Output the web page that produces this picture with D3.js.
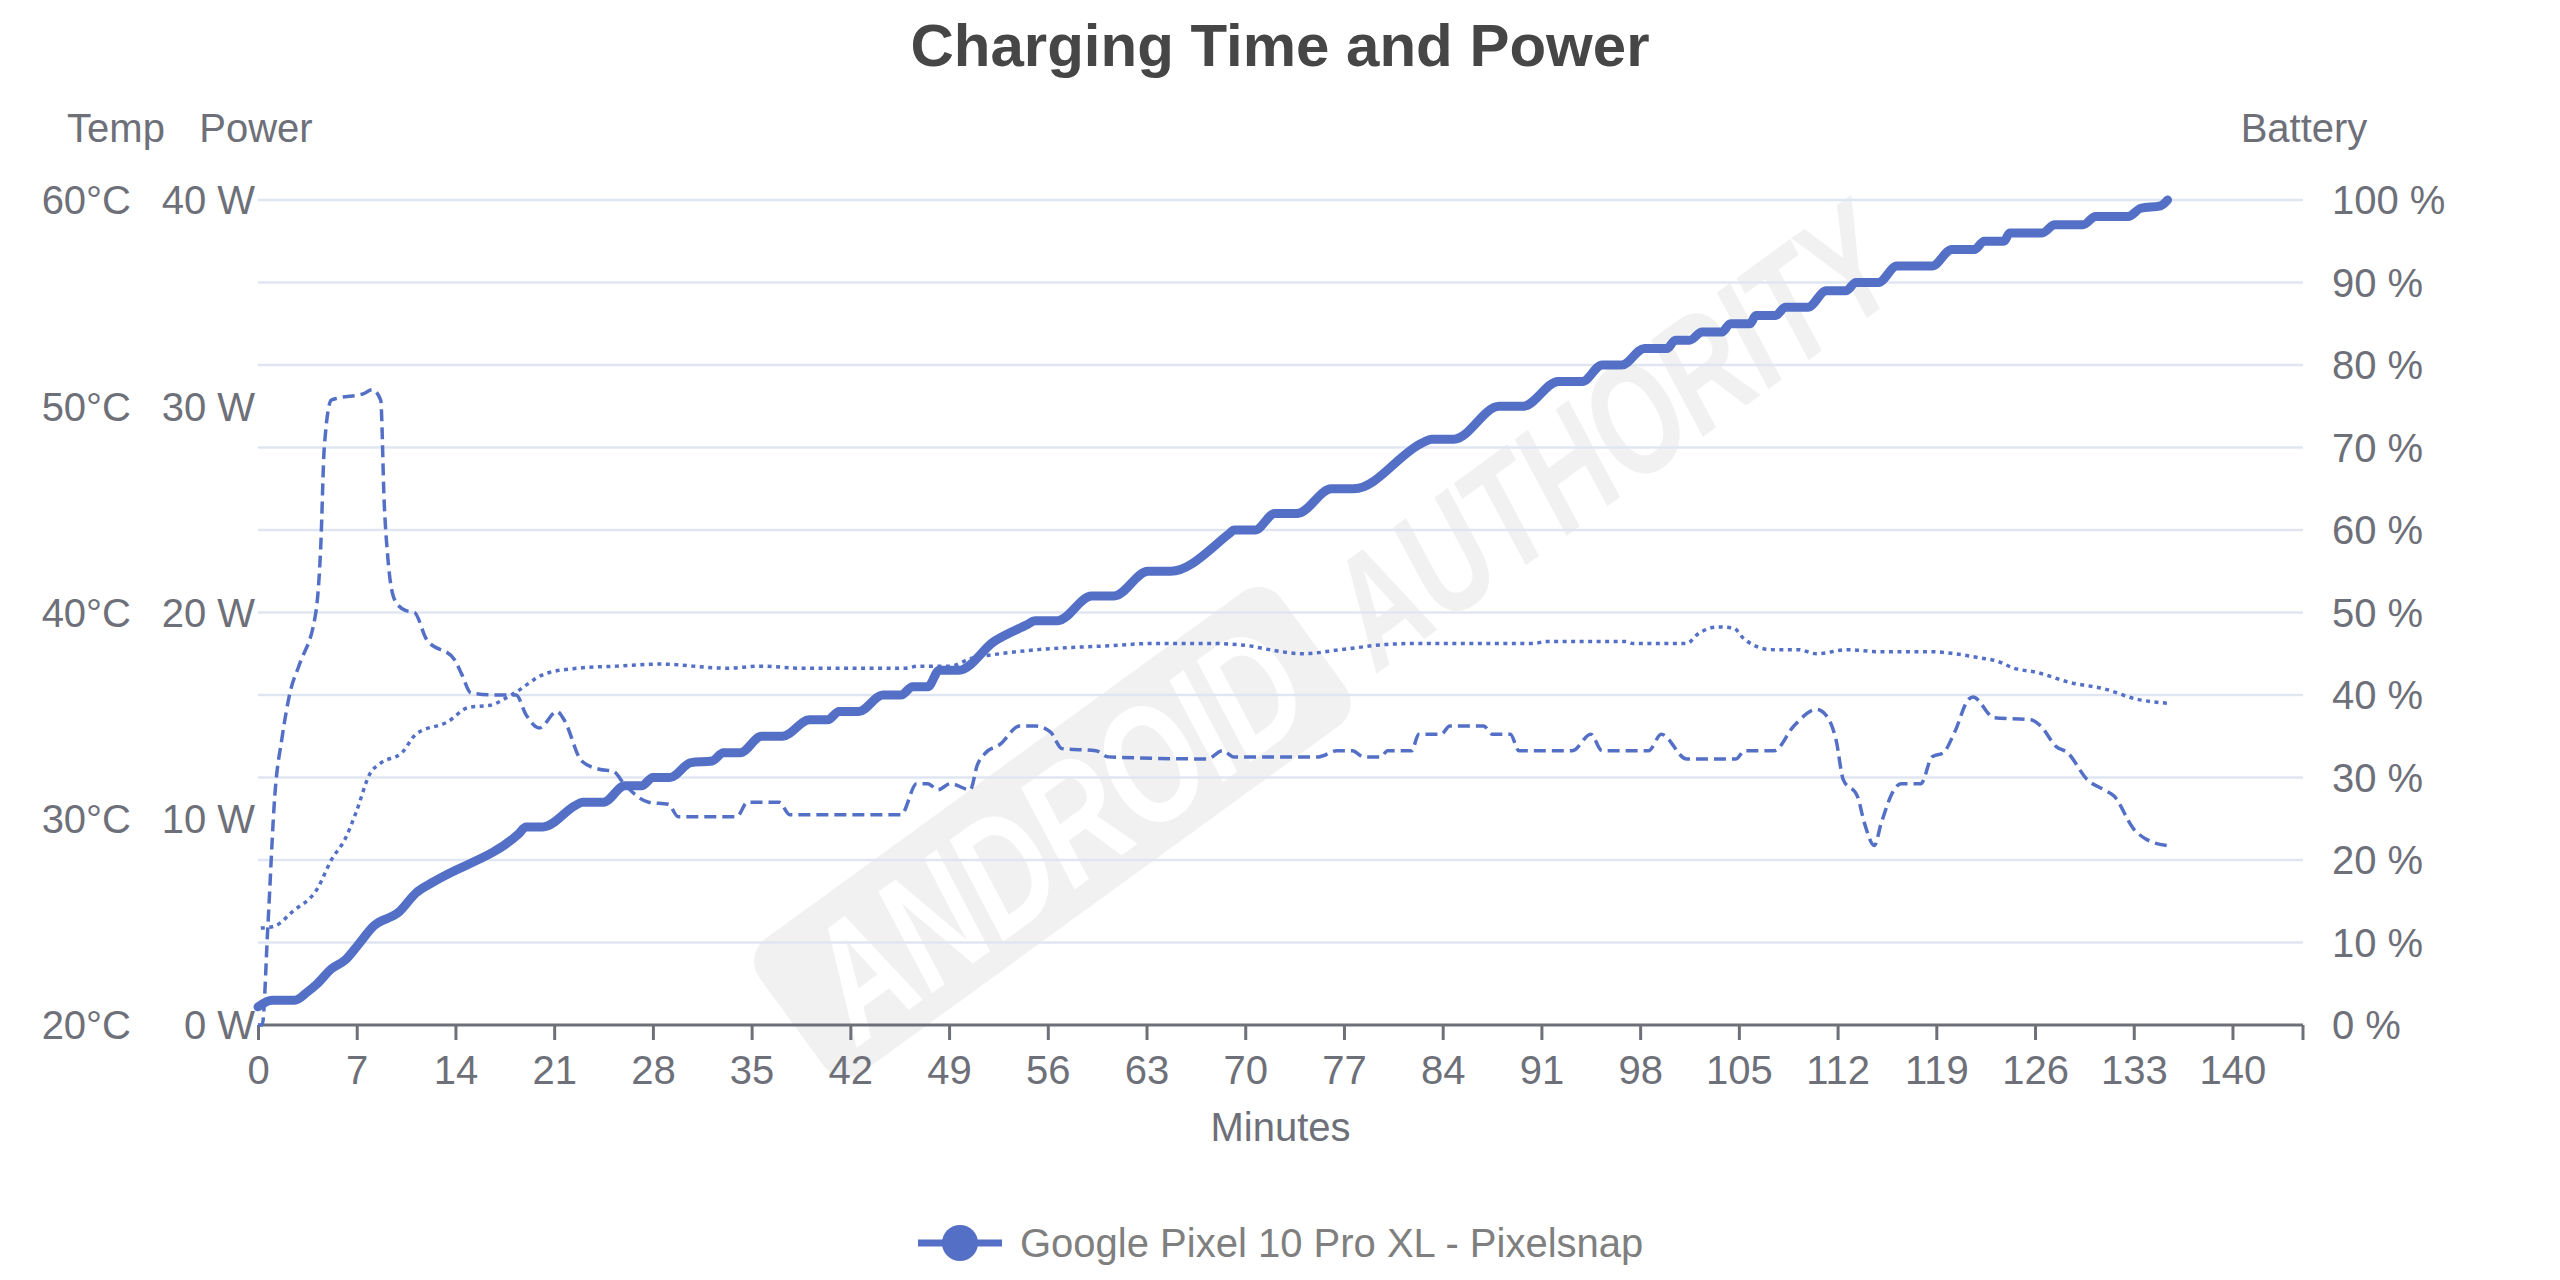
<!DOCTYPE html>
<html>
<head>
<meta charset="utf-8">
<script src="https://cdn.jsdelivr.net/npm/d3@7/dist/d3.min.js"></script>
<style>
  html, body { margin: 0; padding: 0; background: #ffffff; }
  svg { display: block; font-family: "Liberation Sans", Arial, Helvetica, sans-serif; }
</style>
</head>
<body>
<svg id="chart" width="2560" height="1280"></svg>
<script>
// ---------------- DATA ----------------
const chartTitle = "Charging Time and Power";
const seriesName = "Google Pixel 10 Pro XL - Pixelsnap";

const xTicks = [0, 7, 14, 21, 28, 35, 42, 49, 56, 63, 70, 77, 84, 91, 98, 105, 112, 119, 126, 133, 140];
const batteryTicks = [0, 10, 20, 30, 40, 50, 60, 70, 80, 90, 100];
const powerTicks = [0, 10, 20, 30, 40];
const tempTicks = [20, 30, 40, 50, 60];

// Battery (%), solid
const batteryMinutes = [0, 1, 2.6, 3.5, 4.2, 5.2, 6.2, 7, 8.2, 10, 11.2, 12.5, 18.5, 19, 20.2, 22.5, 23, 24.5, 26, 27.2, 28, 29.2, 30.7, 32.2, 33, 34.2, 35.7, 37.2, 39.1, 40.4, 41.2, 42.6, 44.3, 45.6, 46.4, 47.5, 48.3, 49.7, 52.2, 54.5, 55.1, 56.7, 59.1, 60.7, 63.1, 64.7, 68.9, 69.2, 70.7, 72.1, 73.7, 76.1, 77.7, 82.6, 83.2, 84.8, 88, 89.7, 92.2, 93.9, 95.3, 96.7, 98.3, 99.9, 100.5, 101.5, 102.4, 103.8, 104.4, 105.8, 106.2, 107.6, 108.3, 109.9, 111.2, 112.6, 113.3, 114.9, 116.2, 118.7, 120.1, 121.7, 122.4, 123.8, 124.2, 126.5, 127.4, 129.4, 130.3, 132.6, 133.5, 134.9, 135.4];
const batteryValues = [2.2, 3, 3, 4, 5, 6.8, 7.9, 9.5, 12, 13.7, 16, 17.4, 23.2, 24, 24, 26.6, 27, 27, 29, 29, 30, 30, 31.8, 32, 33, 33, 35, 35, 37, 37, 38, 38, 40, 40, 41, 41, 43, 43, 46.5, 48.5, 49, 49, 52, 52, 55, 55, 59.6, 60, 60, 62, 62, 65, 65, 70.6, 71, 71, 75, 75, 78, 78, 80, 80, 82, 82, 83, 83, 84, 84, 85, 85, 86, 86, 87, 87, 89, 89, 90, 90, 92, 92, 94, 94, 95, 95, 96, 96, 97, 97, 98, 98, 99, 99.3, 100];

// Power (W), dashed
const powerMinutes = [0, 0.3, 0.7, 1.2, 1.7, 2.3, 2.95, 4.1, 4.45, 4.7, 5.2, 5.7, 7.45, 8.1, 8.7, 8.95, 9.2, 9.7, 10.45, 11.1, 11.95, 13.95, 14.45, 15.1, 16.95, 18.3, 19, 19.95, 21.2, 21.7, 22.95, 24.2, 25.2, 25.95, 27.7, 29.1, 29.8, 33.95, 34.7, 36.95, 37.7, 45.6, 46.7, 47.5, 48.2, 49.1, 50.5, 51, 51.6, 52.6, 54, 55.1, 56.2, 57, 59.4, 60.3, 67.3, 68.4, 69.2, 75.2, 76.5, 77.6, 78.4, 79.6, 80.1, 81.8, 82.3, 83.9, 84.5, 86.9, 87.5, 88.8, 89.4, 93.2, 94.5, 95.3, 98.6, 99.5, 101.3, 104.8, 105.4, 107.5, 108.9, 110.5, 111.2, 111.9, 112.4, 113.4, 113.9, 114.6, 115.1, 116, 116.5, 117.9, 118.7, 119.5, 120.3, 121.3, 121.6, 123.1, 125.7, 126.4, 127.5, 128.3, 129.7, 130.9, 131.6, 133, 133.9, 135.4];
const powerValues = [0, 0, 4.8, 11.2, 13.9, 16.2, 17.5, 20, 23.2, 28, 30.3, 30.4, 30.6, 30.8, 30.3, 25.3, 22.7, 20.6, 20.1, 20, 18.7, 17.7, 17, 16.1, 16, 16, 15.05, 14.4, 15.2, 14.8, 12.8, 12.4, 12.3, 11.7, 10.8, 10.7, 10.1, 10.1, 10.8, 10.8, 10.2, 10.2, 11.7, 11.7, 11.4, 11.7, 11.4, 12.6, 13.2, 13.6, 14.5, 14.5, 14.2, 13.4, 13.3, 13, 12.9, 13.3, 13, 13, 13.3, 13.3, 13, 13, 13.3, 13.3, 14.1, 14.1, 14.5, 14.5, 14.1, 14.1, 13.3, 13.3, 14.1, 13.3, 13.3, 14.1, 12.9, 12.9, 13.3, 13.3, 14.5, 15.3, 15, 13.8, 11.9, 11.1, 9.8, 8.7, 9.8, 11.4, 11.7, 11.7, 13, 13.2, 14.2, 15.8, 15.9, 14.9, 14.8, 14.5, 13.5, 13.2, 11.9, 11.4, 11.1, 9.5, 9, 8.7];

// Temperature (°C), dotted
const tempMinutes = [0.2, 1.2, 2.45, 4.2, 5.2, 6.2, 6.95, 7.95, 8.7, 10.2, 11.2, 13.45, 14.95, 16.45, 17.95, 20.45, 22.7, 25.45, 28.45, 33.2, 35.7, 38.45, 45.9, 46.8, 49.1, 50.5, 52.6, 55.3, 60.7, 63.4, 67.5, 70.1, 71.7, 74.1, 76.8, 80, 82.3, 90.5, 91.3, 97, 97.5, 101.3, 102.1, 103.5, 104.6, 105.4, 107.3, 109.2, 110.5, 112.7, 114.9, 118.7, 120.3, 122.1, 123.3, 124.5, 126.1, 128.5, 130.9, 133.2, 135.4];
const tempValues = [24.7, 24.8, 25.5, 26.6, 28, 29.05, 30.3, 32.2, 32.7, 33.2, 34.1, 34.7, 35.4, 35.5, 36, 37.05, 37.3, 37.4, 37.5, 37.3, 37.4, 37.3, 37.3, 37.4, 37.4, 37.76, 38, 38.2, 38.4, 38.5, 38.5, 38.4, 38.2, 38.0, 38.2, 38.45, 38.5, 38.5, 38.6, 38.6, 38.5, 38.5, 38.96, 39.3, 39.25, 38.7, 38.2, 38.2, 38.0, 38.2, 38.1, 38.1, 38, 37.8, 37.65, 37.3, 37.1, 36.6, 36.3, 35.8, 35.6];

// ---------------- LAYOUT ----------------
const W = 2560, H = 1280;
const grid = { left: 258, right: 2303, top: 200, bottom: 1025 };
const color = "#5470c6";
const axisColor = "#6E7079";
const gridColor = "#E0E6F1";
const labelSize = 40;

const svg = d3.select("#chart");

const x = d3.scaleLinear().domain([0, 145]).range([grid.left, grid.right]);
const yBat = d3.scaleLinear().domain([0, 100]).range([grid.bottom, grid.top]);
const yPow = d3.scaleLinear().domain([0, 40]).range([grid.bottom, grid.top]);
const yTemp = d3.scaleLinear().domain([20, 60]).range([grid.bottom, grid.top]);

// ---------------- WATERMARK ----------------
const wm = svg.append("g")
  .attr("transform", "translate(743,955) rotate(-36)");
wm.append("rect")
  .attr("x", 0).attr("y", 0).attr("width", 645).attr("height", 165)
  .attr("rx", 28).attr("ry", 28)
  .attr("fill", "#f1f1f2");
wm.append("text")
  .attr("x", 40).attr("y", 142)
  .attr("textLength", 570).attr("lengthAdjust", "spacingAndGlyphs")
  .attr("font-size", 165).attr("font-weight", "bold").attr("font-style", "italic")
  .attr("fill", "#ffffff")
  .text("ANDROID");
wm.append("text")
  .attr("x", 680).attr("y", 145)
  .attr("textLength", 655).attr("lengthAdjust", "spacingAndGlyphs")
  .attr("font-size", 158).attr("font-weight", "bold").attr("font-style", "italic")
  .attr("fill", "#f1f1f2")
  .text("AUTHORITY");

// ---------------- GRID ----------------
svg.append("g").selectAll("line")
  .data(batteryTicks.filter(d => d > 0))
  .join("line")
  .attr("x1", grid.left).attr("x2", grid.right)
  .attr("y1", d => yBat(d)).attr("y2", d => yBat(d))
  .attr("stroke", gridColor).attr("stroke-width", 2.5);

// ---------------- X AXIS ----------------
const xAxisG = svg.append("g").attr("transform", `translate(0,${grid.bottom})`);
const xAxis = d3.axisBottom(x).tickValues(xTicks).tickSize(15).tickPadding(16).tickFormat(d => String(d));
xAxisG.call(xAxis);
xAxisG.select(".domain").attr("stroke", axisColor).attr("stroke-width", 3)
  .attr("d", `M${grid.left},0H${grid.right}`);
xAxisG.selectAll(".tick line").attr("stroke", axisColor).attr("stroke-width", 3);
xAxisG.selectAll(".tick text")
  .attr("fill", axisColor).attr("font-size", labelSize)
  .attr("font-family", "Liberation Sans, Arial, sans-serif");
xAxisG.append("line")
  .attr("x1", grid.right).attr("x2", grid.right).attr("y1", 0).attr("y2", 15)
  .attr("stroke", axisColor).attr("stroke-width", 3);

svg.append("text")
  .attr("x", (grid.left + grid.right) / 2).attr("y", 1141)
  .attr("text-anchor", "middle").attr("font-size", labelSize).attr("fill", axisColor)
  .text("Minutes");

// ---------------- Y AXES LABELS ----------------
svg.append("g").selectAll("text")
  .data(batteryTicks).join("text")
  .attr("x", 2332).attr("y", d => yBat(d))
  .attr("dy", "0.36em")
  .attr("font-size", labelSize).attr("fill", axisColor)
  .text(d => d + " %");

svg.append("g").selectAll("text")
  .data(powerTicks).join("text")
  .attr("x", 255).attr("y", d => yPow(d))
  .attr("dy", "0.36em").attr("text-anchor", "end")
  .attr("font-size", labelSize).attr("fill", axisColor)
  .text(d => d + " W");

svg.append("g").selectAll("text")
  .data(tempTicks).join("text")
  .attr("x", 131).attr("y", d => yTemp(d))
  .attr("dy", "0.36em").attr("text-anchor", "end")
  .attr("font-size", labelSize).attr("fill", axisColor)
  .text(d => d + "°C");

svg.append("text").attr("x", 116).attr("y", 142).attr("text-anchor", "middle")
  .attr("font-size", labelSize).attr("fill", axisColor).text("Temp");
svg.append("text").attr("x", 256).attr("y", 142).attr("text-anchor", "middle")
  .attr("font-size", labelSize).attr("fill", axisColor).text("Power");
svg.append("text").attr("x", 2304).attr("y", 142).attr("text-anchor", "middle")
  .attr("font-size", labelSize).attr("fill", axisColor).text("Battery");

// ---------------- SERIES ----------------
const zip = (a, b) => a.map((m, i) => [m, b[i]]);

const lineTemp = d3.line().x(d => x(d[0])).y(d => yTemp(d[1])).curve(d3.curveMonotoneX);
const linePow = d3.line().x(d => x(d[0])).y(d => yPow(d[1])).curve(d3.curveMonotoneX);
const lineBat = d3.line().x(d => x(d[0])).y(d => yBat(d[1])).curve(d3.curveMonotoneX);

svg.append("path")
  .datum(zip(tempMinutes, tempValues))
  .attr("d", lineTemp)
  .attr("fill", "none").attr("stroke", color).attr("stroke-width", 3.5)
  .attr("stroke-dasharray", "4,4.5");

svg.append("path")
  .datum(zip(powerMinutes, powerValues))
  .attr("d", linePow)
  .attr("fill", "none").attr("stroke", color).attr("stroke-width", 3.5)
  .attr("stroke-dasharray", "12,6");

svg.append("path")
  .datum(zip(batteryMinutes, batteryValues))
  .attr("d", lineBat)
  .attr("fill", "none").attr("stroke", color).attr("stroke-width", 9)
  .attr("stroke-linejoin", "round").attr("stroke-linecap", "round");

// ---------------- TITLE ----------------
svg.append("text")
  .attr("x", W / 2).attr("y", 66)
  .attr("text-anchor", "middle")
  .attr("font-size", 60).attr("font-weight", "bold").attr("fill", "#464646")
  .text(chartTitle);

// ---------------- LEGEND ----------------
const lg = svg.append("g");
lg.append("line").attr("x1", 918).attr("x2", 1002).attr("y1", 1243).attr("y2", 1243)
  .attr("stroke", color).attr("stroke-width", 7);
lg.append("circle").attr("cx", 960).attr("cy", 1243).attr("r", 18).attr("fill", color);
lg.append("text").attr("x", 1020).attr("y", 1243).attr("dy", "0.36em")
  .attr("font-size", labelSize).attr("fill", "#7f7f7f")
  .text(seriesName);
</script>
</body>
</html>
